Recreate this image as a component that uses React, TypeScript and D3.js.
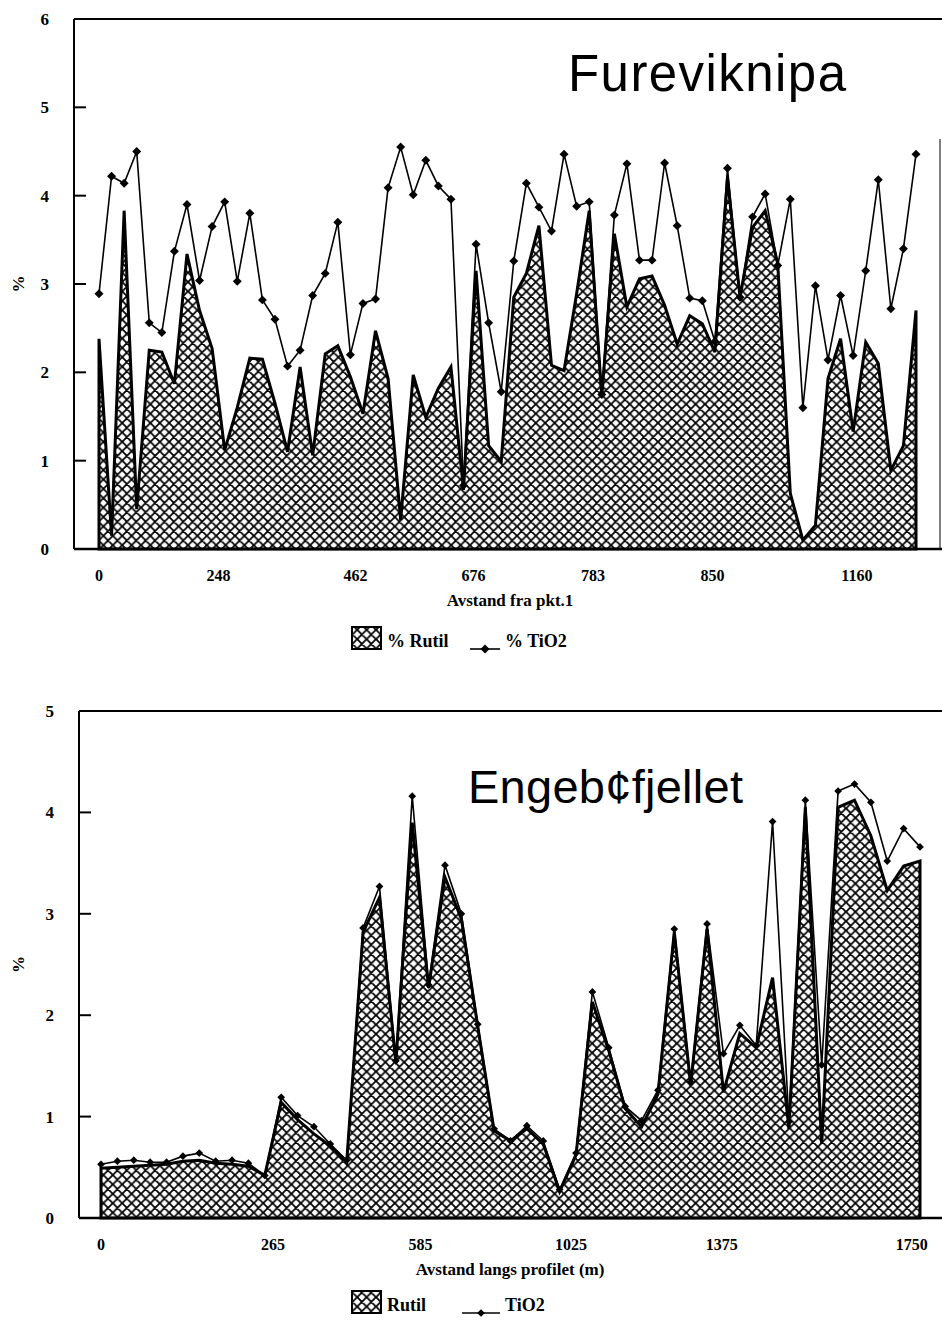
import React from 'react';
import * as d3 from 'd3';

// Fureviknipa profile (top panel)
const furevikRutil = [
  2.38, 0.15, 3.83, 0.45, 2.25, 2.23, 1.87, 3.34, 2.70, 2.27, 1.12, 1.60, 2.16, 2.15, 1.65, 1.10, 2.06,
  1.06, 2.21, 2.30, 1.95, 1.53, 2.47, 1.93, 0.33, 1.97, 1.49, 1.82, 2.06, 0.67, 3.15, 1.17, 0.99,
  2.85, 3.12, 3.66, 2.08, 2.02, 2.89, 3.83, 1.72, 3.57, 2.74, 3.06, 3.09, 2.76, 2.32, 2.64, 2.55,
  2.23, 4.20, 2.85, 3.64, 3.83, 3.23, 0.63, 0.10, 0.27, 1.93, 2.38, 1.33, 2.34, 2.10, 0.89, 1.17, 2.70,
];
const furevikTiO2 = [
  2.89, 4.22, 4.14, 4.50, 2.56, 2.45, 3.37, 3.90, 3.04, 3.65, 3.93, 3.03, 3.80, 2.82, 2.60, 2.07, 2.25,
  2.87, 3.12, 3.70, 2.20, 2.78, 2.83, 4.09, 4.55, 4.01, 4.40, 4.11, 3.96, 0.72, 3.45, 2.56, 1.78,
  3.26, 4.14, 3.87, 3.60, 4.47, 3.88, 3.93, 1.75, 3.78, 4.36, 3.27, 3.27, 4.37, 3.66, 2.84, 2.81,
  2.35, 4.31, 2.85, 3.76, 4.02, 3.21, 3.96, 1.60, 2.98, 2.14, 2.87, 2.19, 3.15, 4.18, 2.72, 3.40, 4.47,
];
const furevikTickPos = [0, 9.5, 20.4, 29.8, 39.3, 48.8, 60.3];
const furevikTickLabels = ['0', '248', '462', '676', '783', '850', '1160'];

// Engebøfjellet profile (bottom panel)
const engeRutil = [
  0.49, 0.50, 0.51, 0.52, 0.53, 0.56, 0.57, 0.54, 0.53, 0.51, 0.42, 1.14, 0.97, 0.83, 0.71, 0.55,
  2.82, 3.16, 1.53, 3.90, 2.27, 3.36, 2.95, 1.89, 0.86, 0.76, 0.88, 0.73, 0.26, 0.62, 2.13, 1.65,
  1.08, 0.90, 1.22, 2.82, 1.31, 2.85, 1.24, 1.82, 1.68, 2.37, 0.88, 4.05, 0.73, 4.05, 4.12, 3.77,
  3.23, 3.47, 3.52,
];
const engeTiO2 = [
  0.53, 0.56, 0.57, 0.55, 0.55, 0.61, 0.64, 0.56, 0.57, 0.54, 0.42, 1.19, 1.01, 0.90, 0.73, 0.57,
  2.86, 3.27, 1.55, 4.16, 2.30, 3.48, 3.00, 1.91, 0.88, 0.76, 0.91, 0.76, 0.28, 0.64, 2.23, 1.68,
  1.10, 0.96, 1.26, 2.85, 1.34, 2.90, 1.62, 1.90, 1.70, 3.91, 0.95, 4.12, 1.51, 4.21, 4.28, 4.10,
  3.52, 3.84, 3.66,
];
const engeTickPos = [0, 10.5, 19.5, 28.7, 37.9, 49.5];
const engeTickLabels = ['0', '265', '585', '1025', '1375', '1750'];

const serif = '"Liberation Serif", "DejaVu Serif", serif';
const sans = '"Liberation Sans", Arial, sans-serif';

type PanelProps = {
  rutil: number[];
  tio2: number[];
  tickPos: number[];
  tickLabels: string[];
  yMax: number;
  left: number;
  top: number;
  bottom: number;
  xFirst: number;
  xLast: number;
  rightBorder: boolean;
  title: string;
  titleX: number;
  titleY: number;
  titleSize: number;
  titleWidth: number;
  xTitle: string;
  legendY: number;
  rutilLabel: string;
  tioLabel: string;
  markerSize: number;
  lineX1: number;
};

const Panel = (p: PanelProps) => {
  const x = d3.scaleLinear().domain([0, p.rutil.length - 1]).range([p.xFirst, p.xLast]);
  const y = d3.scaleLinear().domain([0, p.yMax]).range([p.bottom, p.top]);
  const idx = d3.range(p.rutil.length);

  const area = d3.area<number>()
    .x(i => x(i))
    .y0(y(0))
    .y1(i => y(p.rutil[i]));
  const line = d3.line<number>()
    .x(i => x(i))
    .y(i => y(p.tio2[i]));
  const diamond = d3.symbol(d3.symbolSquare, p.markerSize)();
  const yTicks = d3.range(1, p.yMax);
  const right = 942;
  const ly = p.legendY;

  return (
    <g>
      {/* frame */}
      <line x1={p.left} x2={right} y1={p.top} y2={p.top} stroke="#000" strokeWidth={2} />
      <line x1={p.left} x2={p.left} y1={p.top} y2={p.bottom} stroke="#000" strokeWidth={2} />
      {p.rightBorder && (
        <line x1={940} x2={940} y1={p.top + 120} y2={p.bottom} stroke="#000" strokeWidth={1} />
      )}

      {/* rutil area */}
      <path d={area(idx) || ''} fill="url(#hatch)" stroke="#000" strokeWidth={3} strokeLinejoin="miter" strokeMiterlimit={4} />

      {/* TiO2 line + markers */}
      <path d={line(idx) || ''} fill="none" stroke="#000" strokeWidth={1.6} />
      {idx.map(i => (
        <path key={i} d={diamond || ''} transform={`translate(${x(i)},${y(p.tio2[i])}) rotate(45)`} fill="#000" />
      ))}

      {/* x axis */}
      <line x1={p.left} x2={right} y1={p.bottom} y2={p.bottom} stroke="#000" strokeWidth={2.5} />
      {p.tickPos.map((t, i) => (
        <text key={i} x={x(t)} y={p.bottom + 32} textAnchor="middle" fontFamily={serif} fontWeight="bold" fontSize={16}>
          {p.tickLabels[i]}
        </text>
      ))}

      {/* y axis */}
      {yTicks.map(t => (
        <line key={t} x1={p.left} x2={p.left + 12} y1={y(t)} y2={y(t)} stroke="#000" strokeWidth={2} />
      ))}
      {d3.range(0, p.yMax + 1).map(t => (
        <text key={t} x={p.left - 25} y={y(t) + 6} textAnchor="end" fontFamily={serif} fontWeight="bold" fontSize={17}>
          {t}
        </text>
      ))}
      <text
        transform={`translate(24,${(p.top + p.bottom) / 2}) rotate(-90)`}
        textAnchor="middle"
        fontFamily={serif}
        fontWeight="bold"
        fontSize={17}
      >
        %
      </text>

      {/* titles */}
      <text
        x={p.titleX}
        y={p.titleY}
        fontFamily={sans}
        fontSize={p.titleSize}
        textLength={p.titleWidth}
        lengthAdjust="spacing"
      >
        {p.title}
      </text>
      <text x={510} y={p.bottom + 57} textAnchor="middle" fontFamily={serif} fontWeight="bold" fontSize={17}>
        {p.xTitle}
      </text>

      {/* legend */}
      <rect x={352} y={ly} width={29} height={22} fill="url(#hatch)" stroke="#000" strokeWidth={2} />
      <text x={387} y={ly + 20} fontFamily={serif} fontWeight="bold" fontSize={18}>{p.rutilLabel}</text>
      <line x1={p.lineX1} x2={500} y1={ly + 22} y2={ly + 22} stroke="#000" strokeWidth={1.6} />
      <path d={diamond || ''} transform={`translate(${(p.lineX1 + 500) / 2},${ly + 22}) rotate(45)`} fill="#000" />
      <text x={505} y={ly + 20} fontFamily={serif} fontWeight="bold" fontSize={18}>{p.tioLabel}</text>
    </g>
  );
};

const App = () => (
  <svg
    width={942}
    height={1321}
    viewBox="0 0 942 1321"
    style={{ position: 'absolute', left: 0, top: 0, background: '#fff' }}
  >
    <defs>
      <pattern id="hatch" patternUnits="userSpaceOnUse" width={9.4} height={9.4}>
        <rect width={9.4} height={9.4} fill="#fff" />
        <path
          d="M0,0 L9.4,9.4 M0,9.4 L9.4,0 M-2,7.4 L2,11.4 M7.4,-2 L11.4,2 M-2,2 L2,-2 M7.4,11.4 L11.4,7.4"
          stroke="#000"
          strokeWidth={1.8}
        />
      </pattern>
    </defs>
    <rect width={942} height={1321} fill="#fff" />
    <Panel
      rutil={furevikRutil}
      tio2={furevikTiO2}
      tickPos={furevikTickPos}
      tickLabels={furevikTickLabels}
      yMax={6}
      left={74}
      top={19}
      bottom={549}
      xFirst={99}
      xLast={916}
      rightBorder={true}
      title="Fureviknipa"
      titleX={568}
      titleY={91}
      titleSize={51}
      titleWidth={278}
      xTitle="Avstand fra pkt.1"
      legendY={627}
      rutilLabel="% Rutil"
      tioLabel="% TiO2"
      markerSize={40}
      lineX1={470}
    />
    <Panel
      rutil={engeRutil}
      tio2={engeTiO2}
      tickPos={engeTickPos}
      tickLabels={engeTickLabels}
      yMax={5}
      left={79}
      top={711}
      bottom={1218}
      xFirst={101}
      xLast={920}
      rightBorder={false}
      title="Engeb¢fjellet"
      titleX={468}
      titleY={803}
      titleSize={47}
      titleWidth={275}
      xTitle="Avstand langs profilet (m)"
      legendY={1291}
      rutilLabel="Rutil"
      tioLabel="TiO2"
      markerSize={30}
      lineX1={462}
    />
  </svg>
);

export default App;
